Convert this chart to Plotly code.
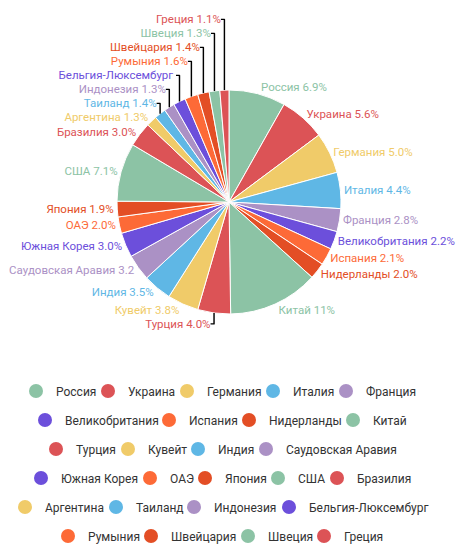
import plotly.graph_objects as go

# countries in order of the slices (clockwise from 12 o'clock)
countries = [
    "Россия", "Украина", "Германия", "Италия", "Франция",
    "Великобритания", "Испания", "Нидерланды", "Китай",
    "Турция", "Кувейт", "Индия", "Саудовская Аравия",
    "Южная Корея", "ОАЭ", "Япония", "США", "Бразилия",
    "Аргентина", "Таиланд", "Индонезия", "Бельгия-Люксембург",
    "Румыния", "Швейцария", "Швеция", "Греция",
]
shares = [
    6.9, 5.6, 5.0, 4.4, 2.8,
    2.2, 2.1, 2.0, 11.0,
    4.0, 3.8, 3.5, 3.2,
    3.0, 2.0, 1.9, 7.1, 3.0,
    1.3, 1.4, 1.3, 1.5,
    1.6, 1.4, 1.3, 1.1,
]
# labels as printed on the chart (Бельгия-Люксембург is shown without value)
share_text = [
    "6.9%", "5.6%", "5.0%", "4.4%", "2.8%",
    "2.2%", "2.1%", "2.0%", "11%",
    "4.0%", "3.8%", "3.5%", "3.2",
    "3.0%", "2.0%", "1.9%", "7.1%", "3.0%",
    "1.3%", "1.4%", "1.3%", "",
    "1.6%", "1.4%", "1.3%", "1.1%",
]

palette = ["#8cc3a5", "#dc5356", "#f0cb69", "#5fb7e5",
           "#ab91c5", "#6c4fdb", "#fd6a37", "#e34e25"]
colors = [palette[i % len(palette)] for i in range(len(countries))]

W, H = 464, 560

# legend layout: marker centre (px) of every entry, one list per row
legend_marker_x = [
    [35, 107, 186, 272, 345],
    [44, 168, 248, 352],
    [55, 127, 197, 265],
    [40, 149, 204, 277, 336],
    [24, 115, 193, 288],
    [67, 150, 247, 323],
]
legend_row_y0 = 383   # anchor of first legend row, px from top
legend_row_dy = 29    # distance between legend rows, px
marker_offset = 27    # legend left edge -> marker centre, px

# pie placement (px); smaller than the original so outside labels fit
cx, cy, rad = 221, 194, 112

fig = go.Figure()

fig.add_trace(
    go.Pie(
        labels=countries,
        values=shares,
        customdata=share_text,
        texttemplate="%{label} %{customdata}",
        textposition="outside",
        textfont=dict(color=colors, size=11.5, family="Roboto"),
        marker=dict(colors=colors, line=dict(color="white", width=1)),
        sort=False,
        direction="clockwise",
        rotation=0,
        showlegend=False,
        hoverinfo="label+value",
        domain=dict(
            x=[(cx - rad) / W, (cx + rad) / W],
            y=[1 - (cy + rad) / H, 1 - (cy - rad) / H],
        ),
    )
)

# every legend entry gets its own small legend so rows can be centred
legends = {}
k = 0
for r, row in enumerate(legend_marker_x):
    for mx in row:
        key = "legend" if k == 0 else f"legend{k + 1}"
        fig.add_trace(
            go.Scatter(
                x=[None],
                y=[None],
                mode="markers",
                name=countries[k],
                legend=key,
                marker=dict(symbol="circle", size=14, color=colors[k]),
            )
        )
        legends[key] = dict(
            orientation="h",
            x=(mx - marker_offset) / W,
            xanchor="left",
            y=1 - (legend_row_y0 + legend_row_dy * r) / H,
            yanchor="middle",
            itemsizing="trace",
            font=dict(size=12, color="#333333", family="Roboto"),
            bgcolor="rgba(0,0,0,0)",
        )
        k += 1

fig.update_layout(
    width=W,
    height=H,
    margin=dict(l=0, r=0, t=0, b=0, autoexpand=False),
    paper_bgcolor="white",
    plot_bgcolor="white",
    font=dict(family="Roboto", size=12, color="#333333"),
    xaxis=dict(visible=False),
    yaxis=dict(visible=False),
    **legends,
)

fig.write_html("out.html")
